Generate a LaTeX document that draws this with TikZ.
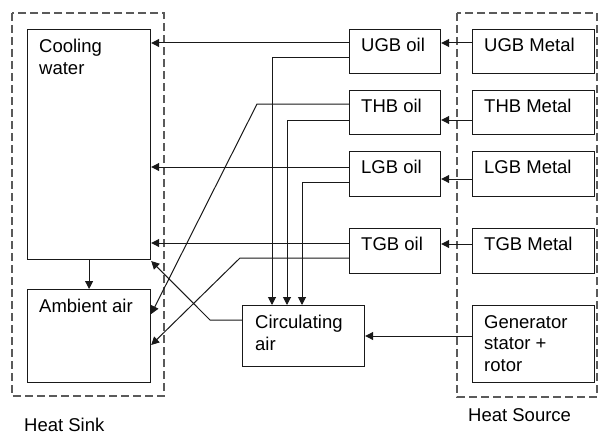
\documentclass[tikz,border=0pt]{standalone}
\usepackage{fontspec}
\setmainfont{Liberation Sans}
\usepackage{tikz}
\usetikzlibrary{
    arrows.meta,
    calc
}
\definecolor{LineGray}{RGB}{25,25,25}
\definecolor{DashGray}{RGB}{90,90,90}

\begin{document}
\begin{tikzpicture}[
    x=1pt,y=-1pt,
    blk/.style={
        draw=LineGray,
        line width=1.2pt,
        inner sep=0pt,
        anchor=north west
    },
    lbl/.style={
        anchor=north west,
        align=left,
        inner sep=0pt,
        font=\fontsize{18.5}{21.5}\selectfont
    },
    zone/.style={
        draw=DashGray,
        line width=1.1pt,
        dash pattern=on 8pt off 4pt
    },
    flow/.style={
        draw=LineGray,
        line width=1pt,
        -{Triangle[length=8pt,width=8pt]}
    }
]
%
    \useasboundingbox (0,0) rectangle (599,436);
%
    % Heat sink and heat source zones
%
    \draw[zone] (12,13) rectangle (164,396);
    \draw[zone] (457,13) rectangle (597,397);
%
    \node[lbl] (sink-lbl) at (24,418) {Heat Sink};
    \node[lbl] (source-lbl) at (468,408) {Heat Source};
%
    % Sink blocks
%
    \node[
        blk,
        minimum width=123,
        minimum height=230
    ] (cool) at (27,29) {};
    \node[lbl] (cool-lbl) at ($(cool.north west)+(12,10)$) {Cooling\\water};
%
    \node[
        blk,
        minimum width=123,
        minimum height=93
    ] (amb) at (27,289) {};
    \node[lbl] (amb-lbl) at ($(amb.north west)+(12,10)$) {Ambient air};
%
    % Oil blocks
%
    \node[blk, minimum width=91, minimum height=44] (uoil) at (349,29) {};
    \node[lbl] (uoil-lbl) at ($(uoil.north west)+(12,9)$) {UGB oil};
%
    \node[blk, minimum width=91, minimum height=44] (toil) at (349,90) {};
    \node[lbl] (toil-lbl) at ($(toil.north west)+(12,9)$) {THB oil};
%
    \node[blk, minimum width=91, minimum height=45] (loil) at (349,151) {};
    \node[lbl] (loil-lbl) at ($(loil.north west)+(12,9)$) {LGB oil};
%
    \node[blk, minimum width=91, minimum height=45] (goil) at (349,228) {};
    \node[lbl] (goil-lbl) at ($(goil.north west)+(12,9)$) {TGB oil};
%
    \node[
        blk,
        minimum width=122,
        minimum height=61
    ] (circ) at (242,305) {};
    \node[lbl] (circ-lbl) at ($(circ.north west)+(13,10)$) {Circulating\\air};
%
    % Source blocks
%
    \node[blk, minimum width=122, minimum height=44] (umetal) at (472,29) {};
    \node[lbl] (umetal-lbl) at ($(umetal.north west)+(12,9)$) {UGB Metal};
%
    \node[blk, minimum width=122, minimum height=44] (tmetal) at (472,90) {};
    \node[lbl] (tmetal-lbl) at ($(tmetal.north west)+(12,9)$) {THB Metal};
%
    \node[blk, minimum width=122, minimum height=45] (lmetal) at (472,151) {};
    \node[lbl] (lmetal-lbl) at ($(lmetal.north west)+(12,9)$) {LGB Metal};
%
    \node[blk, minimum width=122, minimum height=45] (gmetal) at (472,228) {};
    \node[lbl] (gmetal-lbl) at ($(gmetal.north west)+(12,9)$) {TGB Metal};
%
    \node[
        blk,
        minimum width=122,
        minimum height=77
    ] (gen) at (472,305) {};
    \node[lbl] (gen-lbl) at ($(gen.north west)+(12,10)$) {Generator\\stator +\\rotor};
%
    % Metal to oil
%
    \draw[flow] (umetal.west |- 0,43) -- (uoil.east |- 0,43);
    \draw[flow] (tmetal.west |- 0,120) -- (toil.east |- 0,120);
    \draw[flow] (lmetal.west |- 0,179) -- (loil.east |- 0,179);
    \draw[flow] (gmetal.west |- 0,244) -- (goil.east |- 0,244);
    \draw[flow] (gen.west |- 0,336) -- (circ.east |- 0,336);
%
    % Oil to cooling water
%
    \draw[flow] (uoil.west |- 0,43) -- (cool.east |- 0,43);
    \draw[flow] (loil.west |- 0,167) -- (cool.east |- 0,167);
    \draw[flow] (goil.west |- 0,243) -- (cool.east |- 0,243);
%
    % Oil to circulating air
%
    \draw[flow] (uoil.west |- 0,58) -| (circ.north -| 272,0);
    \draw[flow] (toil.west |- 0,120) -| (circ.north -| 287,0);
    \draw[flow] (loil.west |- 0,182) -| (circ.north -| 302,0);
%
    % Oil to ambient air
%
    \draw[flow] (toil.west |- 0,104) -- (257,104) -- (amb.east |- 0,314);
    \draw[flow] (goil.west |- 0,258) -- (240,258) -- (amb.east |- 0,345);
%
    % Circulating air and cooling water
%
    \draw[flow] (circ.west |- 0,320) -- (210,320) -- (cool.east |- 0,261);
    \draw[flow] (cool.south) -- (amb.north);
%
\end{tikzpicture}
\end{document}
